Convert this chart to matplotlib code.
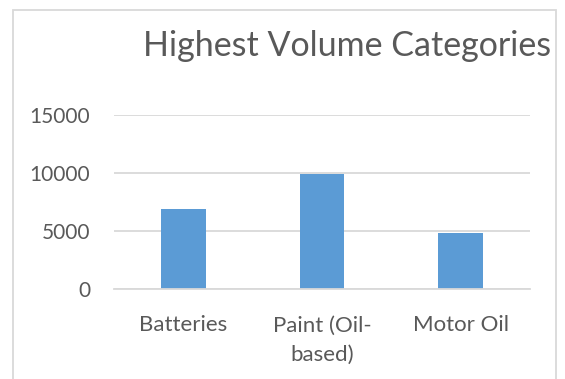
import matplotlib
matplotlib.use("Agg")
import matplotlib.pyplot as plt
from matplotlib.patches import Rectangle

categories = ["Batteries", "Paint (Oil-\nbased)", "Motor Oil"]
volumes = [6850, 9900, 4800]
yticks = [0, 5000, 10000, 15000]

text_color = "#595959"
grid_color = "#D9D9D9"
bar_color = "#5B9BD5"

plt.rcParams["font.family"] = ["Lato", "DejaVu Sans"]

fig = plt.figure(figsize=(5.65, 3.79), dpi=100)
ax = fig.add_axes([114 / 565, 1 - 289 / 379, (530 - 114) / 565, (289 - 114.7) / 379])

# chart border (bottom edge falls off the picture)
fig.patches.append(Rectangle((13 / 565, -0.1), (556 - 13) / 565, 1.1 - 10 / 379,
                             transform=fig.transFigure, fill=False,
                             edgecolor=grid_color, linewidth=1.3))

x = range(len(categories))
ax.bar(x, volumes, width=0.32, color=bar_color, zorder=3)

ax.set_xlim(-0.5, 2.5)
ax.set_ylim(0, 15000)
ax.set_yticks(yticks)
ax.set_yticklabels([str(v) for v in yticks], fontsize=15, color=text_color)
ax.set_xticks(list(x))
ax.set_xticklabels(categories, fontsize=16, color=text_color, linespacing=1.6, va="top")
ax.tick_params(axis="y", length=0, pad=17)
ax.tick_params(axis="x", length=0, pad=19)

ax.grid(axis="y", color=grid_color, linewidth=1.3, zorder=0)
for s in ["top", "right", "left"]:
    ax.spines[s].set_visible(False)
ax.spines["bottom"].set_color(grid_color)
ax.spines["bottom"].set_linewidth(1.3)
ax.spines["bottom"].set_zorder(4)

fig.text(347 / 565, 1 - 46 / 379, "Highest Volume Categories", fontsize=24.5,
         color=text_color, ha="center", va="center")

fig.savefig("out.png", dpi=100)
